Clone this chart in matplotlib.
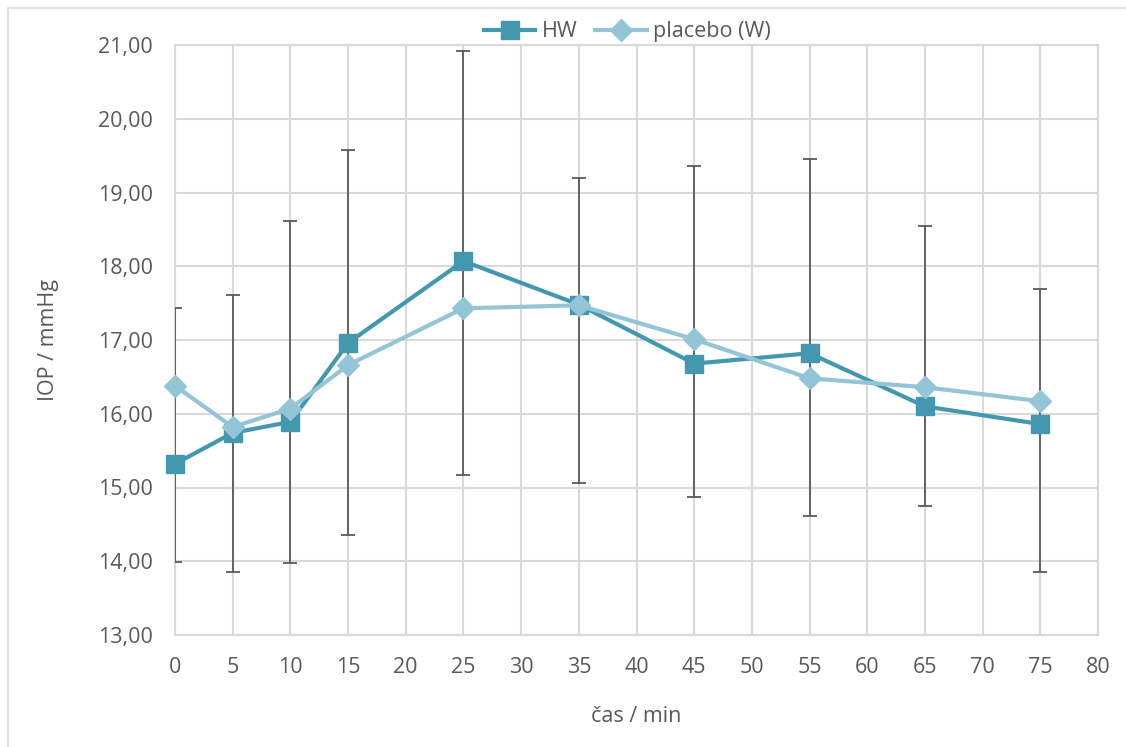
import matplotlib
matplotlib.use("Agg")
import matplotlib.pyplot as plt
from matplotlib.ticker import FuncFormatter, MultipleLocator
from matplotlib.patches import Rectangle

# IOP over time, HW vs placebo (W)
cas = [0, 5, 10, 15, 25, 35, 45, 55, 65, 75]
hw = [15.32, 15.74, 15.89, 16.96, 18.07, 17.48, 16.68, 16.82, 16.10, 15.86]
placebo = [16.38, 15.82, 16.07, 16.66, 17.43, 17.47, 17.01, 16.48, 16.36, 16.17]

# ends of the error bars
err_low = [13.99, 13.86, 13.98, 14.35, 15.17, 15.06, 14.87, 14.61, 14.75, 13.85]
err_high = [17.43, 17.61, 18.62, 19.58, 20.92, 19.20, 19.36, 19.45, 18.54, 17.69]

c_hw = "#4398b0"
c_pl = "#93c5d6"
c_grid = "#d9d9d9"
c_text = "#595959"
fs = 15.5

plt.rcParams["font.family"] = ["Open Sans", "DejaVu Sans"]

fig = plt.figure(figsize=(11.26, 7.47), dpi=100)
ax = fig.add_axes([175 / 1126, 112 / 747, 923 / 1126, 590 / 747])

# chart border
fig.patches.append(Rectangle((8 / 1126, -0.05), 1.1, 1 - 8 / 747 + 0.05,
                             transform=fig.transFigure, fill=False,
                             edgecolor=c_grid, linewidth=1.2))

yerr = [[h - lo for h, lo in zip(hw, err_low)],
        [hi - h for h, hi in zip(hw, err_high)]]
ax.errorbar(cas, hw, yerr=yerr, fmt="none", ecolor=c_text, elinewidth=1.3,
            capsize=5, capthick=1.3, zorder=2.6)

ax.plot(cas, hw, color=c_hw, linewidth=3, marker="s", markersize=13,
        label="HW", zorder=3, clip_on=False)
ax.plot(cas, placebo, color=c_pl, linewidth=3, marker="D", markersize=11,
        label="placebo (W)", zorder=4, clip_on=False)

ax.set_xlim(0, 80)
ax.set_ylim(13, 21)
ax.xaxis.set_major_locator(MultipleLocator(5))
ax.yaxis.set_major_locator(MultipleLocator(1))
ax.yaxis.set_major_formatter(FuncFormatter(lambda v, p: f"{v:.2f}".replace(".", ",")))

ax.grid(True, color=c_grid, linewidth=1.5)
ax.set_axisbelow(True)
for s in ax.spines.values():
    s.set_color(c_grid)
    s.set_linewidth(1.5)
ax.tick_params(length=0, labelsize=fs, colors=c_text)
ax.tick_params(axis="x", pad=16)
ax.tick_params(axis="y", pad=16)

ax.set_xlabel("čas / min", fontsize=fs, color=c_text, labelpad=20)
ax.set_ylabel("IOP / mmHg", fontsize=fs, color=c_text, labelpad=28)

ax.legend(loc="lower center", bbox_to_anchor=(0.49, 0.99), ncol=2, frameon=False,
          fontsize=fs, labelcolor=c_text, handlelength=2.4, columnspacing=0.8,
          handletextpad=0.3, borderaxespad=0)

fig.savefig("out.png", dpi=100)
